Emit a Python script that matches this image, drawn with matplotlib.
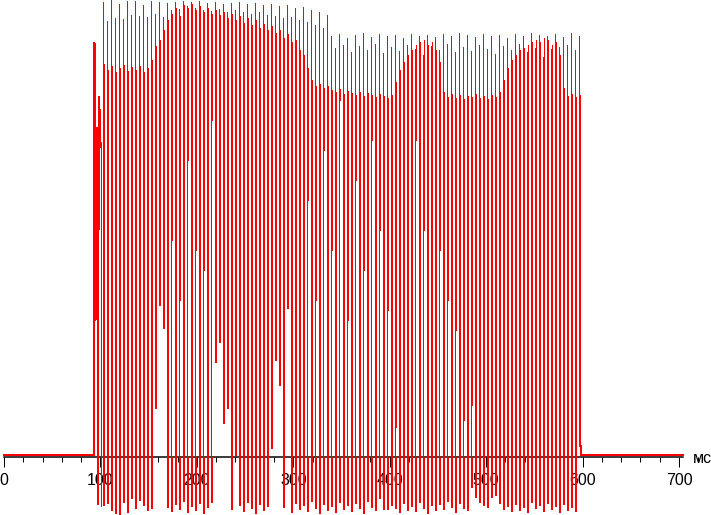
import numpy as np
import matplotlib
matplotlib.use("Agg")
import matplotlib.pyplot as plt
from matplotlib.ticker import MultipleLocator

# light-sensor trace, ms vs brightness (arbitrary units, 0 = dark level)
pwm_start_ms = 102.98     # first regular PWM pulse
pwm_period_ms = 4.148     # ~241 Hz

# start-up transient before the regular pulses
onset_t = [93.85, 93.85, 94.89, 94.89, 95.93, 97.48, 97.48, 98.2, 98.83, 99.56, 101.11, 101.11]
onset_v = [2, 414, 340, 137, 329, 325, -47, 330, 360, 316, 310, -49]

# per pulse: spike top, level at the falling edge, bottom of the low phase
peak = [455, 436, 457, 439, 453, 438, 456, 442, 456, 441, 452, 440, 456, 443, 455, 440,
        454, 447, 455, 448, 456, 451, 455, 449, 456, 447, 454, 446, 455, 448, 453, 445,
        454, 447, 455, 445, 453, 443, 454, 445, 452, 442, 453, 441, 451, 439, 452, 440,
        449, 437, 450, 435, 447, 432, 445, 429, 442,
        421, 409, 423, 412, 419, 405, 422, 411, 424, 407, 420, 413, 423, 404, 421, 410,
        422, 406, 419, 412, 423, 408, 421, 402, 422, 411, 420, 407, 423, 413, 421, 405,
        424, 410, 422, 406, 420, 412, 423, 408, 421, 403, 422, 411, 419, 407, 423, 413,
        421, 405, 424, 409, 422, 400, 421, 408, 423, 410, 420, 412, 424, 407, 421]
level = [393, 387, 391, 385, 389, 392, 386, 390, 387, 391, 385, 389,
         397, 411, 417, 427, 437, 443, 449, 441, 452, 449, 453, 447, 451, 445, 449, 443,
         447, 442, 445, 439, 443, 437, 441, 434, 439, 432, 437, 429, 433, 427, 431, 424,
         427, 419, 423, 415, 417, 407, 402, 389,
         377, 371, 373, 369, 371,
         367, 365, 368, 363, 366, 364, 362, 365, 361, 364, 362, 360, 363, 361, 359, 362,
         375, 387, 395, 402, 407, 412, 415, 417, 412, 415, 407, 395,
         365, 360, 363, 359, 362, 358, 361, 360, 363, 359, 361, 358, 362, 360,
         365, 377, 389, 397, 402, 407, 409, 412, 415, 417, 415, 419, 417, 412, 415, 402,
         369, 361, 363, 360, 362]
bottom = [-48, -46, -53, -56, -57, -45, -55, -41, -51, -43, -48, -53, -51, 49, 152, 129,
          -50, -54, -47, -52, -44, -55, -49, -53, -46, -56, -50, -45, 95, 115, 34, 49,
          -52, 2, -48, -54, -45, -51, -56, -47, -53, -49, 9, 97, 72, -50, 149, -55,
          -46, -52, -48, -54, -44, -51, -56, -47, -53, -49, -55, -45, -52, -48, -54, -46,
          -51, -56, -44, -50, -53, -41, -52, -52, -48, -51, -55, -46, -53, -49, -54, -45,
          -51, -56, -48, -53, -47, -52, -44, -50, -55, -46, -51, -53, -30, -40, -45, -48,
          -50, -40, -38, -46, -52, -49, -54, -47, -53, -50, -55, -45, -51, -48, -54, -46,
          -52, -49, -55, -47, -53, -50, -54, 11]
# pulses whose falling edge stops higher than the rising edge started
fall_bottom = {17: 217, 19: 157, 21: 297, 23: 207, 25: 187, 27: 337,
               51: 257, 53: 157, 55: 307, 57: 207, 59: 357, 61: 137, 63: 277,
               65: 187, 67: 317, 69: 227, 71: 147, 73: 30, 78: 317, 80: 227,
               84: 207, 86: 157, 88: 127, 90: 37, 92: 52}

tick_labels = ["0", "100", "200", "300", "400", "500", "600", "700"]

red = "#ff0000"
px = 0.72  # one pixel in points at 100 dpi

n = len(peak)
t_rise = pwm_start_ms + pwm_period_ms * np.arange(n)
t_fall = t_rise + 1.04
fb = np.array(bottom, dtype=float)
for i, v in fall_bottom.items():
    fb[i] = v
low = np.minimum(bottom, 0)

fig = plt.figure(figsize=(7.11, 5.15), dpi=100)
ax = fig.add_axes([0, 0, 1, 1])
ax.set_xlim(-4.15, 733.2)
ax.set_ylim(-58, 457)

ax.plot([0, onset_t[0]], [2, 2], color=red, lw=1.6 * px, antialiased=False, zorder=3)
ax.plot(onset_t, onset_v, color=red, lw=px, antialiased=False, zorder=3)
ax.vlines(t_rise, bottom, peak, color=red, lw=px, antialiased=False, zorder=3)
ax.vlines(t_fall, fb, level, color=red, lw=px, antialiased=False, zorder=3)
# undershoot below the dark level
ax.vlines(t_fall, low, 0, color=red, lw=px, antialiased=False, zorder=3)
ax.plot([t_fall[-1], t_fall[-1] + 0.6, t_fall[-1] + 0.6, 704], [11, 11, 2, 2],
        color=red, lw=1.6 * px, antialiased=False, zorder=3)

for s in ["left", "top", "right"]:
    ax.spines[s].set_visible(False)
ax.spines["bottom"].set_position(("data", 0))
ax.spines["bottom"].set_bounds(0, 704)
ax.spines["bottom"].set_linewidth(1.5 * px)
ax.yaxis.set_visible(False)
ax.patch.set_alpha(0)

ax.xaxis.set_major_locator(MultipleLocator(100))
ax.xaxis.set_minor_locator(MultipleLocator(20))
ax.set_xticks(range(0, 701, 100))
ax.set_xticklabels(tick_labels)
ax.tick_params(axis="x", which="major", length=10 * px, width=px, direction="out",
               pad=4.5, labelsize=11.5, colors="black")
ax.tick_params(axis="x", which="minor", length=5 * px, width=px, direction="out")
for lab in ax.get_xticklabels():
    lab.set_family(["Liberation Sans", "DejaVu Sans"])

ax.text(714.5, -6, "мс", ha="left", va="baseline", fontsize=11.5,
        family=["Liberation Sans", "DejaVu Sans"])

fig.savefig("out.png", dpi=100)
